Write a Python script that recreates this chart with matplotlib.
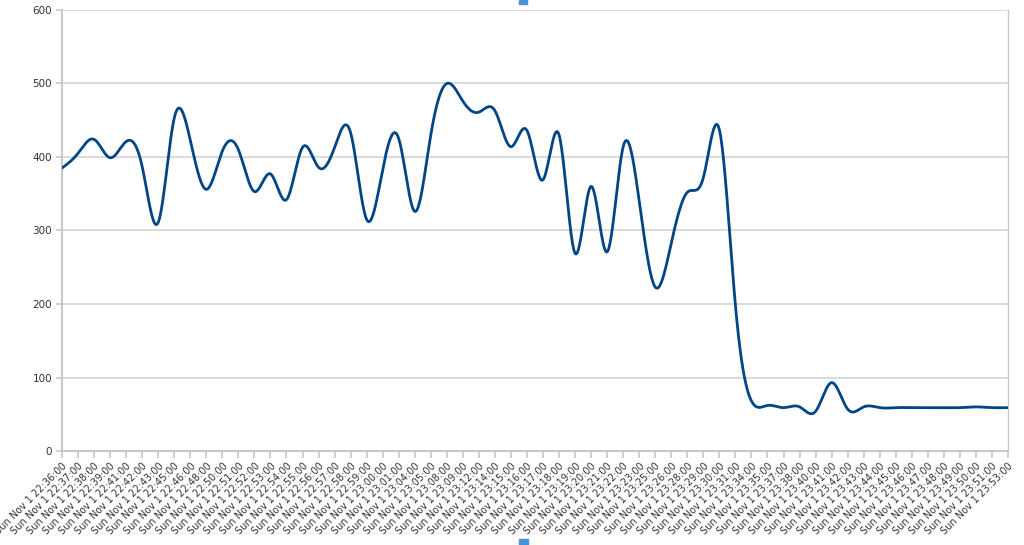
import numpy as np
import matplotlib
matplotlib.use('Agg')
import matplotlib.pyplot as plt
from matplotlib.patches import Rectangle

# sample times (Sun Nov 1), one per category
times = ['22:36', '22:37', '22:38', '22:39', '22:41', '22:42', '22:43', '22:45', '22:46', '22:48',
         '22:50', '22:51', '22:52', '22:53', '22:54', '22:55', '22:56', '22:57', '22:58', '22:59',
         '23:00', '23:01', '23:04', '23:05', '23:08', '23:09', '23:12', '23:14', '23:15', '23:16',
         '23:17', '23:18', '23:19', '23:20', '23:21', '23:22', '23:23', '23:25', '23:26', '23:28',
         '23:29', '23:30', '23:31', '23:34', '23:35', '23:37', '23:38', '23:40', '23:41', '23:42',
         '23:43', '23:44', '23:45', '23:46', '23:47', '23:48', '23:49', '23:50', '23:51', '23:53']

values = [385, 405, 424, 399, 421, 387, 311, 453, 423, 356,
          408, 410, 353, 377, 342, 413, 386, 413, 433, 315,
          383, 425, 326, 430, 500, 476, 461, 463, 414, 436,
          369, 430, 269, 360, 271, 414, 340, 223, 283, 352,
          372, 437, 198, 68, 62, 59, 60, 54, 93, 57,
          60, 59, 59, 59, 59, 59, 59, 60, 59, 59]

labels = ['Sun Nov 1 ' + t + ':00' for t in times]
y_ticks = [0, 100, 200, 300, 400, 500, 600]

line_color = '#004586'
grid_color = '#d4d4d4'
axis_color = '#c8c8c8'
text_color = '#333333'


def natural_spline(y, per_seg=24):
    """natural cubic spline through equally spaced points (like the office chart)"""
    y = np.asarray(y, dtype=float)
    n = len(y)
    A = np.zeros((n, n))
    b = np.zeros(n)
    A[0, 0] = 1
    A[-1, -1] = 1
    for i in range(1, n - 1):
        A[i, i - 1] = 1
        A[i, i] = 4
        A[i, i + 1] = 1
        b[i] = 6 * (y[i + 1] - 2 * y[i] + y[i - 1])
    M = np.linalg.solve(A, b)
    xs, ys = [], []
    for i in range(n - 1):
        t = np.linspace(0, 1, per_seg, endpoint=(i == n - 2))
        s = (M[i] * (1 - t) ** 3 / 6 + M[i + 1] * t ** 3 / 6
             + (y[i] - M[i] / 6) * (1 - t) + (y[i + 1] - M[i + 1] / 6) * t)
        xs.append(i + t)
        ys.append(s)
    return np.concatenate(xs), np.concatenate(ys)


fig = plt.figure(figsize=(10.24, 5.45), dpi=100)
ax = fig.add_axes([62 / 1024, 94 / 545, 946 / 1024, 441 / 545])

x = np.arange(len(values))
sx, sy = natural_spline(values)
ax.plot(sx, sy, color=line_color, linewidth=2, solid_capstyle='round', zorder=3)

ax.set_xlim(0, len(values) - 1)
ax.set_ylim(0, 600)
ax.set_yticks(y_ticks)
ax.set_xticks(x)
ax.set_xticklabels(labels, rotation=45, ha='right', va='top', rotation_mode='anchor',
                   fontsize=7, color=text_color, family='DejaVu Sans')
ax.tick_params(axis='y', labelsize=7.5, colors=axis_color, labelcolor=text_color,
               length=4, width=1.2, pad=3)
ax.tick_params(axis='x', colors=axis_color, labelcolor=text_color, length=5, width=1.2, pad=2)

ax.grid(True, axis='y', color=grid_color, linewidth=1.2)
ax.set_axisbelow(True)
for side in ['left', 'right', 'bottom', 'top']:
    ax.spines[side].set_color(axis_color)
    ax.spines[side].set_linewidth(1.5)
ax.spines['top'].set_visible(False)
ax.spines['right'].set_linewidth(1)

# the two small blue handles at the top and bottom middle of the picture
fig.patches.append(Rectangle((519 / 1024, 541 / 545), 8 / 1024, 4 / 545,
                             transform=fig.transFigure, color='#4a90d9'))
fig.patches.append(Rectangle((519 / 1024, 0), 9 / 1024, 6 / 545,
                             transform=fig.transFigure, color='#4a90d9'))

fig.savefig('out.png', dpi=100)
